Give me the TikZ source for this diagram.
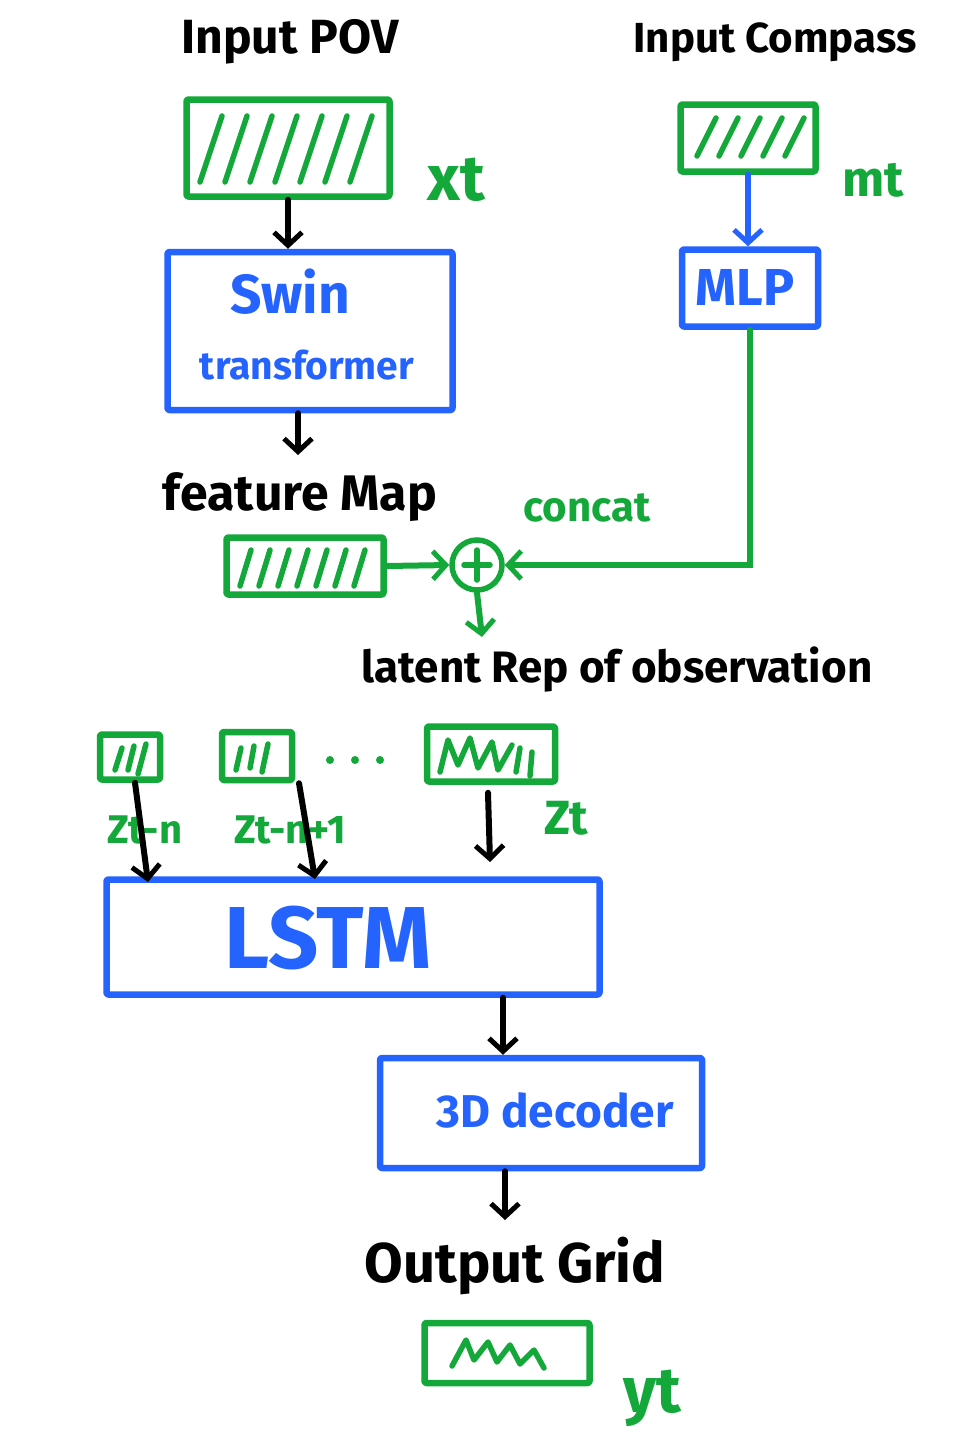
\documentclass[tikz,border=0pt]{standalone}
\usepackage{fontspec}
\setmainfont{Fira Sans}
\usetikzlibrary{arrows.meta,calc}
\definecolor{hgreen}{HTML}{14A83B}
\definecolor{hblue}{HTML}{2563FF}
\newcommand{\fsz}[1]{\fontsize{#1}{#1}\selectfont\bfseries}
\begin{document}
\begin{tikzpicture}[x=1pt,y=-1pt,
  gbox/.style={draw=hgreen, line width=6.5pt, line join=round, rounded corners=2pt, inner sep=0pt},
  bbox/.style={draw=hblue, line width=6.5pt, line join=round, rounded corners=2pt, inner sep=0pt},
  hatchl/.style={draw=hgreen, line width=5.5pt, line cap=round, line join=round},
  karr/.style={draw=black, line width=6pt, line cap=round, -{Straight Barb[length=13pt,width=28pt,line width=5pt]}},
  garr/.style={draw=hgreen, line width=6pt, line cap=round, -{Straight Barb[length=13pt,width=28pt,line width=5pt]}},
  barr/.style={draw=hblue, line width=6pt, line cap=round, -{Straight Barb[length=13pt,width=28pt,line width=5pt]}},
  ktxt/.style={text=black, inner sep=0pt},
  gtxt/.style={text=hgreen, inner sep=0pt},
  btxt/.style={text=hblue, inner sep=0pt}]
\useasboundingbox (0,0) rectangle (980,1446);
\fill[white] (0,0) rectangle (980,1446);

% ---- top left: Input POV
\node[ktxt, font=\fsz{48}] (pov) at (290,42) {Input POV};
\node[gbox, minimum width=203pt, minimum height=97pt] (xt) at (288,148) {};
\foreach \i in {0,...,6} \draw[hatchl] (200+25*\i,182) -- (222+25*\i,116);
\node[gtxt, font=\fsz{64}] (xtl) at (456,180) {xt};

\node[bbox, minimum width=285pt, minimum height=158pt] (swin) at (310,331) {};
\node[btxt, font=\fsz{55}] (swint) at (290,292) {Swin};
\node[btxt, font=\fsz{39}] (trans) at (307,365) {transformer};
\draw[karr] (xt.south) -- (xt.south |- swin.north);

\node[ktxt, font=\fsz{50}] (fmt) at (300,497) {feature Map};
\coordinate (fmin) at (298,455);
\draw[karr] (swin.south -| fmin) -- (fmin);

\node[gbox, minimum width=157pt, minimum height=57pt] (fm) at (305,566) {};
\foreach \i in {0,...,6} \draw[hatchl] (240+19*\i,586) -- (251+19*\i,550);

% ---- top right: Input Compass
\node[ktxt, font=\fsz{42}] (comp) at (775,42) {Input Compass};
\node[gbox, minimum width=135pt, minimum height=67pt] (mt) at (748,138) {};
\foreach \i in {0,...,4} \draw[hatchl] (697+22*\i,156) -- (716+22*\i,118);
\node[gtxt, font=\fsz{50}] (mtl) at (873,180) {mt};

\node[bbox, minimum width=136pt, minimum height=77pt] (mlp) at (750,288) {};
\node[btxt, font=\fsz{52}] (mlpt) at (745,287) {MLP};
\draw[barr] (mt.south) -- (mt.south |- mlp.north);

% ---- concat
\node[draw=hgreen, line width=5.5pt, circle, minimum size=50pt, inner sep=0pt] (circ) at (477,565) {};
\draw[hgreen, line width=5.5pt, line cap=round] ($(circ.center)+(-13,0)$) -- ($(circ.center)+(13,0)$);
\draw[hgreen, line width=5.5pt, line cap=round] ($(circ.center)+(0,-15)$) -- ($(circ.center)+(0,15)$);
\node[gtxt, font=\fsz{42}] (concat) at (587,508) {concat};
\draw[garr] (fm.east) -- (circ.west);
\draw[garr] (mlp.south) |- (circ.east);

\coordinate (latin) at (482,637);
\draw[garr] (circ.south) -- (latin);
\node[ktxt, font=\fsz{44}] (latent) at (617,670) {latent Rep of observation};

% ---- latent vectors
\node[gbox, minimum width=60pt, minimum height=45pt] (z1) at (130,757) {};
\draw[hatchl] (115,770) -- (122,748);
\draw[hatchl] (128,770) -- (134,746);
\draw[hatchl] (138,774) -- (146,744);
\node[gbox, minimum width=70pt, minimum height=48pt] (z2) at (257,756) {};
\draw[hatchl] (236,770) -- (241,748);
\draw[hatchl] (250,768) -- (254,746);
\draw[hatchl] (262,772) -- (268,744);
\foreach \dx in {0,25,50} \fill[hgreen] (330+\dx,760) circle (4pt);
\node[gbox, minimum width=128pt, minimum height=55pt] (z3) at (491,754) {};
\draw[hatchl] (440,772) -- (448,740) -- (458,765) -- (470,738) -- (478,768) -- (492,742) -- (498,770) -- (512,745);
\draw[hatchl] (520,748) -- (516,772);
\draw[hatchl] (532,752) -- (530,776);

\node[gtxt, font=\fsz{40}] (z1l) at (145,830) {Zt-n};
\node[gtxt, font=\fsz{40}] (z2l) at (290,830) {Zt-n+1};
\node[gtxt, font=\fsz{48}] (z3l) at (566,818) {Zt};

\node[bbox, minimum width=493pt, minimum height=115pt] (lstm) at (353,937) {};
\node[btxt, font=\fsz{88}] (lstmt) at (328,938) {LSTM};
\coordinate (l1) at (148,882);
\coordinate (l2) at (315,879);
\coordinate (l3) at (490,862);
\draw[karr] ($(z1.south)+(5,0)$) -- (l1);
\draw[karr] ($(z2.south)+(42,0)$) -- (l2);
\draw[karr] ($(z3.south)+(-3,8)$) -- (l3);

% ---- decoder
\node[bbox, minimum width=322pt, minimum height=110pt] (dec) at (541,1113) {};
\node[btxt, font=\fsz{46}] (dect) at (555,1110) {3D decoder};
\draw[karr] (lstm.south -| 503,0) -- (dec.north -| 503,0);

\node[ktxt, font=\fsz{56}] (outt) at (515,1266) {Output Grid};
\coordinate (outin) at (505,1220);
\draw[karr] (dec.south -| outin) -- (outin);

\node[gbox, minimum width=165pt, minimum height=60pt] (yt) at (507,1353) {};
\draw[hatchl] (452,1366) -- (466,1340) -- (474,1360) -- (488,1342) -- (497,1362) -- (510,1345) -- (520,1364) -- (534,1350) -- (544,1368);
\node[gtxt, font=\fsz{64}] (ytl) at (652,1398) {yt};
\end{tikzpicture}
\end{document}
